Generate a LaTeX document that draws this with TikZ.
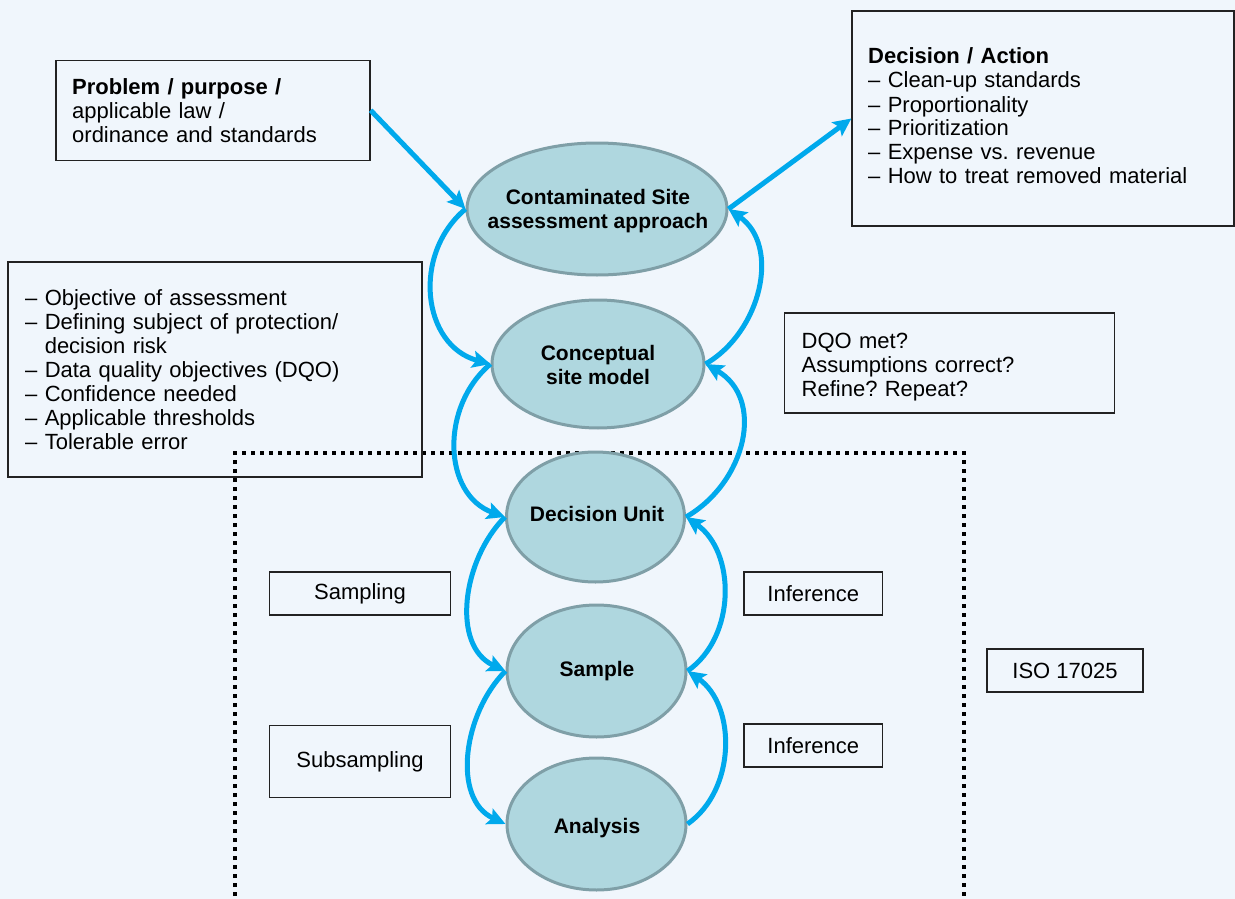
\documentclass[tikz,border=0pt]{standalone}
\usepackage{fontspec}
\setmainfont{Liberation Sans}
\frenchspacing
\usetikzlibrary{shapes.geometric,arrows.meta}

\definecolor{bg}{HTML}{F0F6FC}
\definecolor{ellfill}{HTML}{AFD7DF}
\definecolor{elldraw}{HTML}{7F9FA7}
\definecolor{flow}{HTML}{00A9EC}
\definecolor{boxline}{HTML}{222222}

\tikzset{
  stage/.style={ellipse, draw=elldraw, fill=ellfill, line width=3pt, inner sep=0pt},
  stagetext/.style={align=center, inner sep=0pt, font=\fontsize{21}{24}\selectfont\bfseries},
  framebox/.style={rectangle, draw=boxline, line width=1.3pt, inner sep=0pt},
  tagbox/.style={rectangle, draw=boxline, line width=1.3pt, inner sep=0pt,
    font=\fontsize{22}{24}\selectfont},
  listtext/.style={anchor=base west, inner sep=0pt, align=left,
    font=\fontsize{22}{24}\selectfont},
  flowarrow/.style={draw=flow, line width=5pt,
    -{Stealth[length=18pt,width=17pt,inset=3.5pt]}},
  scopeline/.style={draw=black, line width=4.5pt, dash pattern=on 4pt off 5pt},
}

\begin{document}
\begin{tikzpicture}[x=1pt,y=1pt]
  % page and background
  \fill[bg] (0,0) rectangle (1235,-899);
  \useasboundingbox (0,0) rectangle (1235,-899);

  % laboratory scope (open at the bottom)
  \draw[scopeline] (235,-905) -- (235,-453) -- (964,-453) -- (964,-905);

  % text boxes
  \node[framebox, minimum width=314pt, minimum height=100pt] (prob) at (213,-110.3) {};
  \node[listtext, text width=290pt] (probtxt) at (72,-95)
    {\textbf{Problem / purpose /}\\applicable law /\\ordinance and standards};

  \node[framebox, minimum width=382pt, minimum height=215pt] (dec) at (1043,-118.5) {};
  \node[listtext, text width=350pt] (dectxt) at (868,-64)
    {\textbf{Decision / Action}\\
     – Clean-up standards\\
     – Proportionality\\
     – Prioritization\\
     – Expense vs. revenue\\
     – How to treat removed material};

  \node[framebox, minimum width=414pt, minimum height=215pt] (obj) at (215,-369.5) {};
  \node[listtext, text width=390pt] (objtxt) at (25,-305)
    {– Objective of assessment\\
     – Defining subject of protection/\\
     \phantom{– }decision risk\\
     – Data quality objectives (DQO)\\
     – Confidence needed\\
     – Applicable thresholds\\
     – Tolerable error};

  \node[framebox, minimum width=330pt, minimum height=100pt] (dqo) at (949.3,-363) {};
  \node[listtext, text width=300pt] (dqotxt) at (801.5,-348)
    {DQO met?\\Assumptions correct?\\Refine? Repeat?};

  \node[tagbox, minimum width=181pt, minimum height=43pt] (samp) at (360,-593.5) {Sampling};
  \node[tagbox, minimum width=181pt, minimum height=72pt] (subs) at (360,-761.5) {Subsampling};
  \node[tagbox, minimum width=138.5pt, minimum height=43pt] (inf1) at (813.3,-593.5) {Inference};
  \node[tagbox, minimum width=138.5pt, minimum height=43pt] (inf2) at (813.3,-745.5) {Inference};
  \node[tagbox, minimum width=156pt, minimum height=43pt] (iso) at (1065,-670.5) {ISO 17025};

  % process stages
  \node[stage, minimum width=260pt, minimum height=132pt] (cas) at (597,-209) {};
  \node[stagetext] (castxt) at (598,-211) {Contaminated Site\\assessment approach};
  \node[stage, minimum width=212pt, minimum height=128pt] (csm) at (598,-364) {};
  \node[stagetext] (csmtxt) at (598,-365) {Conceptual\\site model};
  \node[stage, minimum width=178pt, minimum height=130pt] (du) at (595.5,-517) {};
  \node[stagetext] (dutxt) at (597,-514) {Decision Unit};
  \node[stage, minimum width=179pt, minimum height=132pt] (smp) at (596.5,-671) {};
  \node[stagetext] (smptxt) at (597,-671) {Sample};
  \node[stage, minimum width=179pt, minimum height=132pt] (ana) at (596.5,-824) {};
  \node[stagetext] (anatxt) at (597,-828) {Analysis};

  % inputs and outputs
  \draw[flowarrow] (prob.east) -- (cas.west);
  \draw[flowarrow] (cas.east) -- (dec.west);

  % downward chain on the left
  \draw[flowarrow] (cas.west) to[out=220,in=165,looseness=1.15] (csm.west);
  \draw[flowarrow] (csm.west) to[out=220,in=160,looseness=1.1] (du.west);
  \draw[flowarrow] (du.west) to[out=225,in=155] (smp.west);
  \draw[flowarrow] (smp.west) to[out=225,in=155] (ana.west);

  % feedback chain on the right
  \draw[flowarrow] (csm.east) to[out=30,in=-35,looseness=1.05] (cas.east);
  \draw[flowarrow] (du.east) to[out=30,in=-30,looseness=1.15] (csm.east);
  \draw[flowarrow] (smp.east) to[out=35,in=-35] (du.east);
  \draw[flowarrow] (ana.east) to[out=35,in=-35] (smp.east);
\end{tikzpicture}
\end{document}
